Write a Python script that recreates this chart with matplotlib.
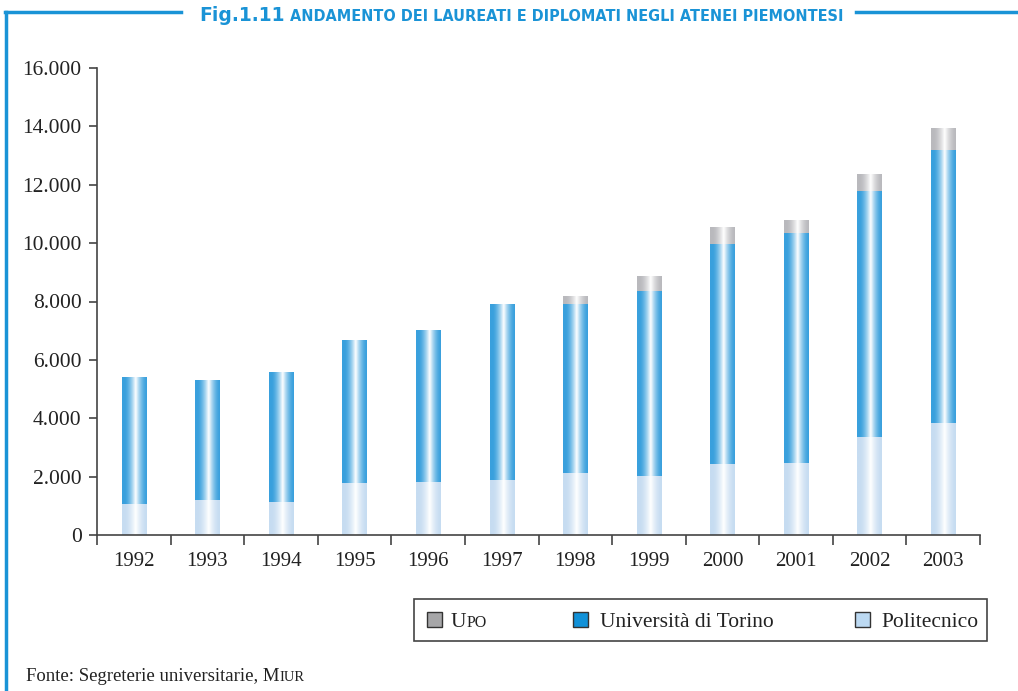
import matplotlib.pyplot as plt
import numpy as np
from matplotlib.colors import to_rgb
from matplotlib.patches import Rectangle
from matplotlib.lines import Line2D

# data
anni = ['1992', '1993', '1994', '1995', '1996', '1997',
        '1998', '1999', '2000', '2001', '2002', '2003']
politecnico = [1050, 1200, 1130, 1780, 1815, 1880, 2120, 2020, 2430, 2470, 3360, 3840]
torino = [4350, 4110, 4450, 4870, 5205, 6000, 5790, 6340, 7540, 7880, 8430, 9350]
upo = [0, 0, 0, 0, 0, 0, 240, 480, 550, 440, 580, 720]
yticks = [0, 2000, 4000, 6000, 8000, 10000, 12000, 14000, 16000]

blue = '#1a93d6'
txt = '#222222'
serif = ['Liberation Serif', 'DejaVu Serif']


def gradient(ax, bars, color):
    # horizontal gradient: coloured edges, white stripe near the middle
    c = np.array(to_rgb(color))
    t = np.linspace(0, 1, 60)
    w = np.clip(1 - np.abs(t - 0.55) / 0.45, 0, 1) ** 1.6
    row = c[None, :] * (1 - w[:, None]) + w[:, None]
    img = row[None, :, :]
    for b in bars:
        h = b.get_height()
        if h <= 0:
            continue
        x, y = b.get_x(), b.get_y()
        ax.imshow(img, extent=[x, x + b.get_width(), y, y + h],
                  aspect='auto', interpolation='bilinear', zorder=2)


fig = plt.figure(figsize=(10.18, 6.91), dpi=100)
ax = fig.add_axes([97 / 1018, 156 / 691, 883 / 1018, 467 / 691])

x = np.arange(len(anni))
w = 0.33
bottom2 = np.array(politecnico) + np.array(torino)
b1 = ax.bar(x, politecnico, w, color='none')
b2 = ax.bar(x, torino, w, bottom=politecnico, color='none')
b3 = ax.bar(x, upo, w, bottom=bottom2, color='none')
gradient(ax, b1, '#c6dcf1')
gradient(ax, b2, '#39a0dd')
gradient(ax, b3, '#b9b9bd')

ax.set_xlim(-0.5, len(anni) - 0.5)
ax.set_ylim(0, 16000)

for s in ['top', 'right']:
    ax.spines[s].set_visible(False)
for s in ['left', 'bottom']:
    ax.spines[s].set_color('#444444')
    ax.spines[s].set_linewidth(1.2)

ax.set_yticks(yticks)
ax.set_yticklabels([f'{v:,}'.replace(',', '.') for v in yticks],
                   fontfamily=serif, fontsize=15.5, color=txt)
ax.tick_params(axis='y', length=6, width=1.2, color='#444444', pad=5)

ax.set_xticks(np.arange(len(anni) + 1) - 0.5)
ax.set_xticklabels([])
ax.tick_params(axis='x', which='major', length=7, width=1.2, color='#444444')
ax.set_xticks(x, minor=True)
ax.set_xticklabels(anni, minor=True, fontfamily=serif, fontsize=15, color=txt)
ax.tick_params(axis='x', which='minor', length=0, pad=12)

# frame lines and title
fig.add_artist(Line2D([6 / 1018, 6 / 1018], [0, 1 - 12 / 691], color=blue, lw=2.5))
fig.add_artist(Line2D([5 / 1018, 181 / 1018], [1 - 12 / 691] * 2, color=blue, lw=2.5))
fig.add_artist(Line2D([856 / 1018, 1], [1 - 12 / 691] * 2, color=blue, lw=2.5))
fig.text(199 / 1018, 1 - 21 / 691, 'Fig.1.11', fontweight='bold',
         fontsize=13.5, color=blue, va='baseline', ha='left')
fig.text(290 / 1018, 1 - 21 / 691, 'ANDAMENTO DEI LAUREATI E DIPLOMATI NEGLI ATENEI PIEMONTESI',
         fontweight='bold', fontsize=10.45, color=blue, va='baseline', ha='left')

# legend box drawn by hand (small caps for UPO)
fig.add_artist(Rectangle((414 / 1018, 1 - 641 / 691), 573 / 1018, 42 / 691,
                         transform=fig.transFigure, fill=False, ec='#444444', lw=1.2))
ly = 1 - 627 / 691
items = [(427, '#a6a6a8'), (573, '#1191d8'), (855, '#bcd9f2')]
for xs, col in items:
    fig.add_artist(Rectangle((xs / 1018, ly), 15 / 1018, 15 / 691,
                             transform=fig.transFigure, fc=col, ec='#333333', lw=1))
u = fig.text(451 / 1018, ly, 'U', fontfamily=serif, fontsize=15.5, va='baseline', color=txt)
ax.annotate('PO', xy=(1, ly), xycoords=(u, 'figure fraction'), fontfamily=serif,
            fontsize=11.5, va='baseline', color=txt, annotation_clip=False)
fig.text(600 / 1018, ly, 'Università di Torino', fontfamily=serif, fontsize=15.5,
         va='baseline', color=txt)
fig.text(881 / 1018, ly, 'Politecnico', fontfamily=serif, fontsize=15.5,
         va='baseline', color=txt)

# source
sy = 1 - 681 / 691
src = fig.text(26 / 1018, sy, 'Fonte: Segreterie universitarie, M', fontfamily=serif,
               fontsize=13.5, va='baseline', color=txt)
ax.annotate('IUR', xy=(1, sy), xycoords=(src, 'figure fraction'), fontfamily=serif,
            fontsize=10.5, va='baseline', color=txt, annotation_clip=False)

fig.savefig('out.png', dpi=100)
